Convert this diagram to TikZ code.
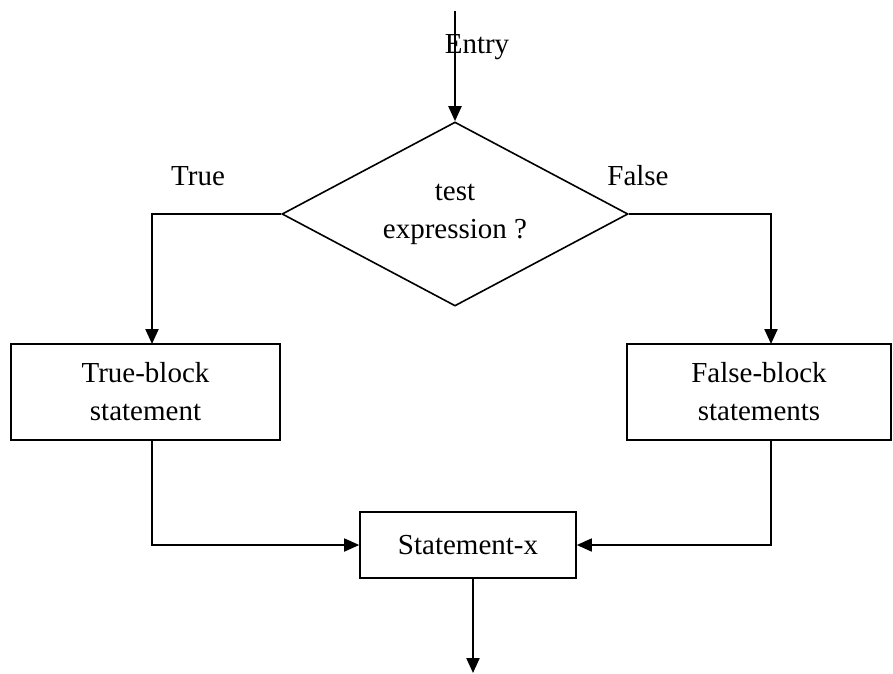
\documentclass[tikz,border=0pt]{standalone}
\usepackage{fontspec}
\setmainfont{Liberation Serif}
\usetikzlibrary{shapes.geometric,arrows.meta}
\begin{document}
\begin{tikzpicture}[x=1pt,y=-1pt,
  every node/.style={font=\fontsize{29}{38}\selectfont},
  box/.style={draw,line width=1.6pt,rectangle,inner sep=0pt,align=center},
  dec/.style={draw,line width=1.6pt,diamond,inner sep=0pt,minimum width=346pt,minimum height=184pt},
  lbl/.style={inner sep=0pt,anchor=base},
  tip/.style={-{Triangle[length=15pt,width=13pt]}},
  flow/.style={line width=2.2pt,tip},
  link/.style={line width=1.7pt,tip}]
\useasboundingbox (0,0) rectangle (893,673);
\coordinate (start) at (455,11);
\node[dec] (test) at (455,214) {};
\node[align=center,inner sep=0pt] (testtxt) at (455,214) {test\\expression ?};
\node[lbl] (entry) at (477,53) {Entry};
\node[lbl] (true) at (198,185) {True};
\node[lbl] (false) at (638,185) {False};
\node[box,minimum width=269pt,minimum height=96pt] (tb) at (145.5,392) {True-block\\statement};
\node[box,minimum width=264pt,minimum height=96pt] (fb) at (759,392) {False-block\\statements};
\node[box,minimum width=216pt,minimum height=66pt] (sx) at (468,545) {Statement-x};
\coordinate (end) at (473,673);
\draw[flow] (start) -- (test.north);
\draw[flow] (test.west) -| (152,344);
\draw[flow] (test.east) -| (771,344);
\draw[link] (152,440) |- (sx.west);
\draw[link] (771,440) |- (sx.east);
\draw[flow] (473,578) -- (end);
\end{tikzpicture}
\end{document}
